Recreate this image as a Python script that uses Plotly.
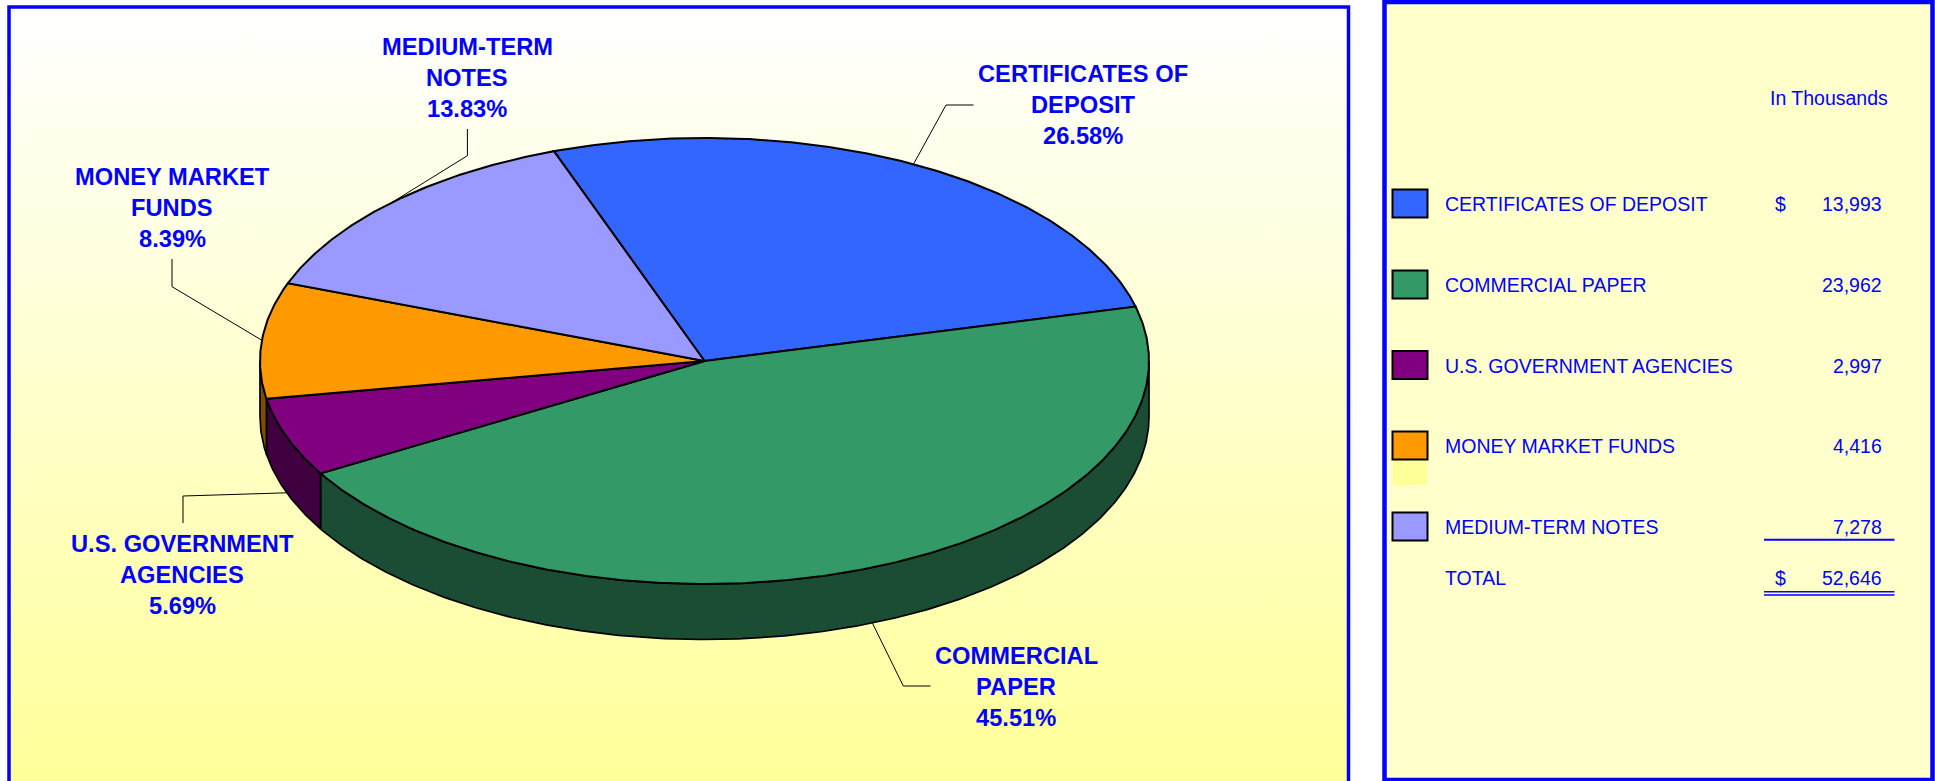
import numpy as np
import plotly.graph_objects as go

# ---- data ----
categories = ["CERTIFICATES OF DEPOSIT", "COMMERCIAL PAPER", "U.S. GOVERNMENT AGENCIES",
              "MONEY MARKET FUNDS", "MEDIUM-TERM NOTES"]
values = [13993, 23962, 2997, 4416, 7278]
total_value = 52646
percent_labels = ["26.58%", "45.51%", "5.69%", "8.39%", "13.83%"]
label_lines = [["CERTIFICATES OF", "DEPOSIT"], ["COMMERCIAL", "PAPER"],
               ["U.S. GOVERNMENT", "AGENCIES"], ["MONEY MARKET", "FUNDS"], ["MEDIUM-TERM", "NOTES"]]
colors = ["#3366FF", "#339966", "#800080", "#FF9900", "#9999FF"]
side_colors = ["#1A3380", "#1A4D33", "#400040", "#804D00", "#4D4D80"]
dollar_rows = [0]

# ---- layout of the drawing (pixels of the page) ----
W, H = 1935, 781
CX, CY, RX, RY, DEPTH = 704.5, 361.0, 444.5, 223.0, 55.5
START_DEG = 109.8
BLUE = "#0000FF"
FONT = "Liberation Sans"
label_pos = [(1083, 74), (1016, 656), (182, 544), (172.3, 176.5), (467.4, 46.5)]
label_step = 31.0
leader_elbow = [[(946, 105), (973.5, 105)], [(903.3, 686), (930.5, 686)], [(183, 496), (183, 523)],
                [(172, 286.7), (172, 259)], [(467.4, 155.7), (467.4, 129)]]
legend_rows_y = [204, 285.3, 365.5, 446, 527]
swatch_y = [(189.5, 217.5), (270.5, 298.5), (351, 379), (431.5, 459.5), (512.5, 540.5)]

shares = np.array(values, dtype=float) / sum(values)
ends = START_DEG - np.cumsum(shares) * 360
starts = np.concatenate([[START_DEG], ends[:-1]])


def pt(deg, drop=0.0):
    a = np.radians(deg)
    return CX + RX * np.cos(a), CY - RY * np.sin(a) + drop


def arc(a0, a1):
    n = max(2, int(abs(a1 - a0) * 2) + 1)
    return np.linspace(a0, a1, n)


fig = go.Figure()

# gradient background of the chart panel
fig.add_trace(go.Scatter(
    x=[9, 1348, 1348, 9, 9], y=[7, 7, H, H, 7], mode="lines", fill="toself",
    line=dict(width=0), hoverinfo="skip",
    fillgradient=dict(type="vertical", colorscale=[[0, "#FFFF99"], [1, "#FFFFFF"]]),
))

# leader lines
for i in range(len(values)):
    mid = (starts[i] + ends[i]) / 2
    sin_mid = np.sin(np.radians(mid))
    x0, y0 = pt(mid, DEPTH if sin_mid < -0.3 else 0)
    xs = [x0] + [p[0] for p in leader_elbow[i]]
    ys = [y0] + [p[1] for p in leader_elbow[i]]
    fig.add_trace(go.Scatter(x=xs, y=ys, mode="lines", line=dict(color="black", width=1), hoverinfo="skip"))

# side walls: only the front half of the rim (180..360 deg) is visible
for i in range(len(values)):
    hi, lo = starts[i], ends[i]
    for shift in (0, -360, 360):
        a0 = min(hi + shift, 360)
        a1 = max(lo + shift, 180)
        a0, a1 = min(a0, 360), max(a1, 180)
        if a0 <= a1:
            continue
        t = arc(a0, a1)
        xt, yt = pt(t)
        xb, yb = pt(t[::-1], DEPTH)
        fig.add_trace(go.Scatter(
            x=np.concatenate([xt, xb, xt[:1]]), y=np.concatenate([yt, yb, yt[:1]]),
            mode="lines", fill="toself", fillcolor=side_colors[i],
            line=dict(color="black", width=1.7), hoverinfo="skip"))

# top face
for i in range(len(values)):
    t = arc(starts[i], ends[i])
    xt, yt = pt(t)
    fig.add_trace(go.Scatter(
        x=np.concatenate([[CX], xt, [CX]]), y=np.concatenate([[CY], yt, [CY]]),
        mode="lines", fill="toself", fillcolor=colors[i],
        line=dict(color="black", width=2), hoverinfo="skip"))

shapes = [
    dict(type="rect", x0=1384.5, x1=1932.5, y0=2, y1=780, fillcolor="#FFFFCC",
         line=dict(color=BLUE, width=4.5), layer="below"),
    dict(type="rect", x0=9, x1=1348.5, y0=7, y1=790, line=dict(color=BLUE, width=3.5)),
    dict(type="rect", x0=1392.7, x1=1427, y0=460, y1=485, fillcolor="#FFFF99", line=dict(width=0), layer="below"),
    dict(type="line", x0=1764, x1=1894.5, y0=539.7, y1=539.7, line=dict(color=BLUE, width=2)),
    dict(type="line", x0=1764, x1=1894.5, y0=591.7, y1=591.7, line=dict(color=BLUE, width=1.5)),
    dict(type="line", x0=1764, x1=1894.5, y0=595, y1=595, line=dict(color=BLUE, width=1.5)),
]
for i, (y0, y1) in enumerate(swatch_y):
    shapes.append(dict(type="rect", x0=1392.5, x1=1427.5, y0=y0, y1=y1, fillcolor=colors[i],
                       line=dict(color="black", width=2)))

annotations = []


def text(x, y, s, size, bold=False, anchor="center"):
    annotations.append(dict(
        x=x, y=y, xref="x", yref="y", text=f"<b>{s}</b>" if bold else s, showarrow=False,
        xanchor=anchor, yanchor="middle", borderpad=0,
        font=dict(family=FONT, size=size, color=BLUE)))


for i in range(len(values)):
    x, y = label_pos[i]
    for j, line in enumerate(label_lines[i] + [percent_labels[i]]):
        text(x, y + j * label_step, line, 23.7, bold=True)

LEG = 19.5
text(1888.5, 97.7, "In Thousands", LEG, anchor="right")
for i, cat in enumerate(categories):
    text(1444, legend_rows_y[i], cat, LEG, anchor="left")
    text(1882.5, legend_rows_y[i], f"{values[i]:,}", LEG, anchor="right")
    if i in dollar_rows:
        text(1780, legend_rows_y[i], "$", LEG)
text(1444, 578.3, "TOTAL", LEG, anchor="left")
text(1780, 578.3, "$", LEG)
text(1882.5, 578.3, f"{total_value:,}", LEG, anchor="right")

fig.update_layout(
    width=W, height=H, margin=dict(l=0, r=0, t=0, b=0), showlegend=False,
    paper_bgcolor="white", plot_bgcolor="white",
    xaxis=dict(range=[0, W], visible=False, fixedrange=True),
    yaxis=dict(range=[H, 0], visible=False, fixedrange=True),
    shapes=shapes, annotations=annotations,
)
fig.write_html("out.html", config={"displayModeBar": False},
               post_script="document.body.style.margin='0';document.body.style.overflow='hidden';")
